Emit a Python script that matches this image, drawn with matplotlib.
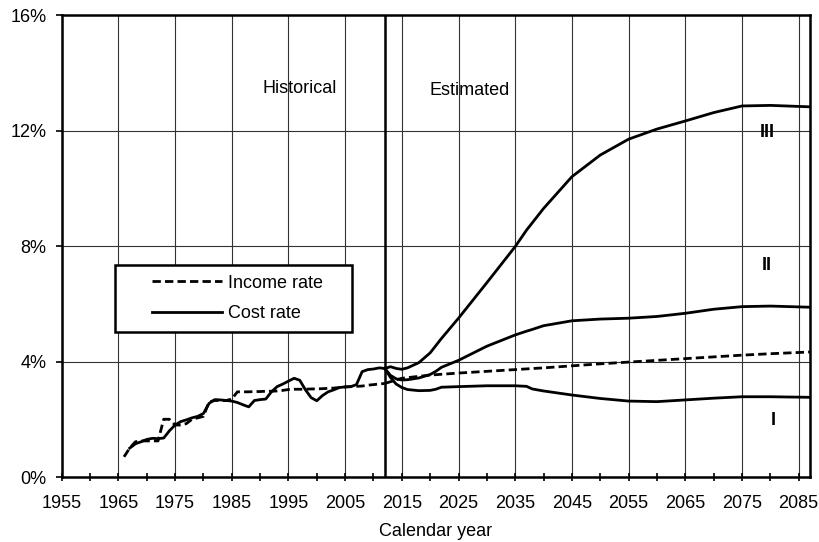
import matplotlib
matplotlib.use("Agg")
import matplotlib.pyplot as plt
from matplotlib.patches import Rectangle
from matplotlib.ticker import MultipleLocator, FixedLocator

plt.rcParams['font.family'] = ['Liberation Sans', 'DejaVu Sans']

# historical income rate (percent of taxable payroll)
income_hist_years = list(range(1966, 2013))
income_hist = [0.70, 1.00, 1.22, 1.25, 1.25, 1.25, 1.25, 2.00, 2.00, 1.80,
               1.80, 1.85, 2.00, 2.05, 2.10, 2.60, 2.65, 2.65, 2.65, 2.70,
               2.95, 2.95, 2.95, 2.96, 2.96, 2.97, 2.97, 2.98, 3.00, 3.03,
               3.04, 3.04, 3.04, 3.05, 3.05, 3.06, 3.07, 3.08, 3.10, 3.12,
               3.13, 3.14, 3.15, 3.18, 3.20, 3.22, 3.24]

# historical cost rate
cost_hist_years = list(range(1967, 2013))
cost_hist = [1.00, 1.15, 1.22, 1.30, 1.34, 1.33, 1.35, 1.60, 1.80, 1.92,
             1.98, 2.05, 2.10, 2.20, 2.55, 2.68, 2.67, 2.65, 2.63, 2.58,
             2.50, 2.43, 2.65, 2.68, 2.70, 2.95, 3.13, 3.22, 3.32, 3.42,
             3.35, 3.02, 2.75, 2.64, 2.82, 2.95, 3.02, 3.10, 3.12, 3.13,
             3.20, 3.65, 3.72, 3.74, 3.78, 3.76]

# projected income rate
income_proj_years = [2012, 2015, 2020, 2025, 2030, 2035, 2040, 2045, 2050,
                     2055, 2060, 2065, 2070, 2075, 2080, 2087]
income_proj = [3.24, 3.42, 3.53, 3.60, 3.66, 3.72, 3.78, 3.85, 3.92,
               3.98, 4.04, 4.10, 4.16, 4.22, 4.27, 4.33]

# projected cost rates, alternatives I, II, III
proj_years = [2012, 2013, 2014, 2015, 2016, 2018, 2020, 2021, 2022, 2025,
              2030, 2035, 2037, 2038, 2040, 2045, 2050, 2055, 2060, 2065,
              2070, 2075, 2080, 2087]
cost_low = [3.76, 3.45, 3.22, 3.10, 3.03, 2.99, 3.00, 3.04, 3.11, 3.13,
            3.16, 3.16, 3.14, 3.05, 2.98, 2.84, 2.72, 2.63, 2.61, 2.67,
            2.73, 2.78, 2.78, 2.76]
cost_int = [3.76, 3.52, 3.40, 3.36, 3.37, 3.43, 3.55, 3.66, 3.80, 4.04,
            4.53, 4.92, 5.05, 5.11, 5.24, 5.41, 5.47, 5.50, 5.56, 5.67,
            5.81, 5.90, 5.92, 5.88]
cost_high = [3.76, 3.82, 3.76, 3.73, 3.78, 3.96, 4.30, 4.55, 4.80, 5.50,
             6.73, 7.98, 8.55, 8.80, 9.30, 10.40, 11.15, 11.70, 12.05, 12.33,
             12.62, 12.85, 12.87, 12.82]

major_years = list(range(1955, 2086, 10))
minor_years = list(range(1960, 2086, 10))

fig = plt.figure(figsize=(8.19, 5.42), dpi=100)
ax = fig.add_axes([0.0753, 0.1199, 0.9137, 0.8524])

lw = 2.0
dash = (0, (3, 1.5))
ax.plot(income_hist_years, income_hist, color='black', lw=lw, ls=dash)
ax.plot(income_proj_years, income_proj, color='black', lw=lw, ls=dash)
ax.plot(cost_hist_years, cost_hist, color='black', lw=lw)
ax.plot(proj_years, cost_low, color='black', lw=lw)
ax.plot(proj_years, cost_int, color='black', lw=lw)
ax.plot(proj_years, cost_high, color='black', lw=lw)

ax.axvline(2012, color='black', lw=1.8)

ax.set_xlim(1955, 2087)
ax.set_ylim(0, 16)

ax.xaxis.set_major_locator(FixedLocator(major_years))
ax.xaxis.set_minor_locator(FixedLocator(minor_years))
ax.yaxis.set_major_locator(MultipleLocator(4))
ax.set_yticklabels([f"{int(v)}%" for v in ax.get_yticks()])

ax.tick_params(axis='x', which='both', direction='inout', length=6, width=1.2,
               labelsize=13, pad=10)
ax.tick_params(axis='y', which='major', direction='out', length=4, width=1.2,
               labelsize=13, pad=7)

for s in ax.spines.values():
    s.set_linewidth(1.8)

ax.grid(True, which='major', color='#333333', lw=0.8)
ax.set_axisbelow(True)

ax.set_xlabel("Calendar year", fontsize=13, labelpad=8)

ax.text(1996.9, 13.45, "Historical", fontsize=13, ha='center', va='center')
ax.text(2027.0, 13.4, "Estimated", fontsize=13, ha='center', va='center')
ax.text(2079.4, 11.92, "III", fontsize=13, fontweight='bold', ha='center', va='center')
ax.text(2079.4, 7.34, "II", fontsize=13, fontweight='bold', ha='center', va='center')
ax.text(2080.6, 1.97, "I", fontsize=13, fontweight='bold', ha='center', va='center')

# legend box
ax.add_patch(Rectangle((0.0711, 0.3139), 0.3167, 0.145, transform=ax.transAxes,
                       facecolor='white', edgecolor='black', lw=1.8, zorder=4))
h1, = ax.plot([], [], color='black', lw=lw, ls=dash)
h2, = ax.plot([], [], color='black', lw=lw)
leg = ax.legend([h1, h2], ["Income rate", "Cost rate"], loc='center left',
                bbox_to_anchor=(0.1202, 0.3864), frameon=False, fontsize=13,
                handlelength=3.9, handletextpad=0.35, labelspacing=0.75,
                borderpad=0, borderaxespad=0)
leg.set_zorder(5)

fig.savefig("out.png", dpi=100)
